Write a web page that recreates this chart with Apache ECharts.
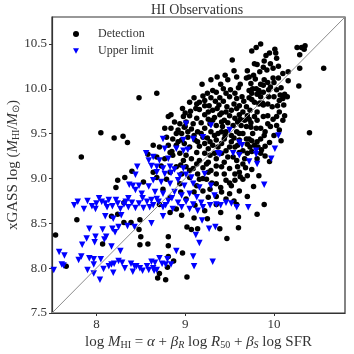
<!DOCTYPE html>
<html>
<head>
<meta charset="utf-8">
<script src="https://cdn.jsdelivr.net/npm/echarts@6/dist/echarts.min.js"></script>
<style>
    html, body { margin: 0; padding: 0; background: #fff; }
    #chart { width: 354px; height: 354px; }
</style>
</head>
<body>
<div id="chart"></div>
<script>
    // axis ticks
    var xTicks = [8, 9, 10];
    var yTicks = [7.5, 8.0, 8.5, 9.0, 9.5, 10.0, 10.5];
    var axisRange = [7.5, 10.8];

    // 1:1 line
    var oneToOne = [[7.5, 7.5], [10.8, 10.8]];

    // HI detections [predicted, observed]
    var detections = [
        [8.05,9.51],[8.20,9.45],[8.30,9.47],[8.35,9.40],[7.83,9.24],[8.40,9.08],[8.32,9.01],[8.24,8.98],[8.22,8.90],
        [8.53,8.96],[8.58,9.27],[8.31,8.73],[8.48,9.90],
        [7.78,8.54],[7.54,8.37],[8.17,8.58],[8.31,8.51],[8.39,8.51],[8.49,8.54],[8.48,8.43],[8.50,8.35],[8.49,8.26],
        [8.58,8.27],[8.07,8.27],[7.66,8.02],[8.24,8.60],
        [8.96,8.59],[9.10,8.56],[8.83,8.62],[9.02,8.46],[9.07,8.43],[9.14,8.44],[9.39,8.44],[9.60,8.57],[9.47,8.33],
        [8.81,8.35],[8.81,8.25],[8.97,8.17],[8.81,8.13],[8.87,8.08],[8.80,8.01],[8.71,7.94],[8.69,7.89],[8.78,7.87],[9.02,7.90],
        [10.40,9.51],[9.72,9.66],[9.81,9.65],[9.88,9.69],[9.99,9.66],[10.03,9.69],[10.12,9.70],[10.10,9.65],[9.85,9.56],
        [9.74,9.57],[9.93,9.61],[10.03,9.59],[10.06,9.54],[10.08,9.42],[9.72,9.44],[9.75,9.42],[9.81,9.41],[9.85,9.44],
        [9.78,9.37],[9.73,9.35],[9.82,9.35],[9.86,9.32],[9.81,9.22],[9.95,9.19],[9.70,9.03],[9.83,9.03],[9.77,8.91],[9.89,8.71],
        [9.78,9.69],[9.93,9.70],[9.96,9.58],[9.76,9.50],[9.89,9.48],[9.70,9.28],[9.85,9.28],[9.81,8.60],
        [10.56,10.23],[10.29,10.23],[10.28,10.03],[10.26,10.46],[10.31,10.46],[10.35,10.48],[10.34,10.44],[10.29,10.38],
        [9.85,10.50],[9.80,10.46],[9.75,10.42],[10.01,10.44],[10.02,10.40],[9.91,10.37],[10.03,10.34],[9.78,10.28],
        [9.81,10.27],[9.89,10.31],[9.96,10.28],[9.99,10.23],[9.88,10.24],[9.92,10.21],[9.84,10.19],[10.16,10.19],
        [10.10,10.17],[9.72,10.13],[9.77,10.15],[9.79,10.11],[9.89,10.10],[9.99,10.12],[10.05,10.12],[10.16,10.09],
        [9.74,10.06],[9.85,10.05],[9.93,10.07],[10.00,10.07],[10.08,10.01],[9.80,10.00],[9.83,9.98],[9.88,10.04],
        [9.94,9.99],[10.03,9.99],[10.10,9.92],[10.07,9.93],[10.12,9.94],[10.15,9.91],[10.10,9.89],[9.72,9.98],
        [9.75,9.95],[9.81,9.94],[9.83,9.96],[9.85,9.91],[9.88,9.96],[9.94,9.91],[9.72,9.90],[9.75,9.88],[9.78,9.85],
        [9.84,9.84],[9.88,9.82],[10.11,9.82],[9.93,9.83],
        [9.76,10.00],[9.87,9.84],[9.98,9.80],[10.04,9.81],[10.06,9.87],[10.00,9.91],[9.83,9.83],[9.73,9.76],
        [9.81,9.74],[10.06,9.74],[9.96,10.02],
        [9.53,10.32],[9.36,10.13],[9.29,10.10],[9.19,10.05],[9.58,10.13],[9.69,10.12],[8.68,9.95],[9.31,9.98],
        [9.43,10.00],[9.51,9.99],[9.60,10.01],[9.56,9.95],[9.50,9.91],[9.58,9.89],[9.64,9.91],[9.66,9.86],[9.20,9.92],
        [9.29,9.90],[9.34,9.86],[9.39,9.90],[9.43,9.86],[8.97,9.78],[9.22,9.81],[9.16,9.77],[9.27,9.81],[9.31,9.76],
        [9.36,9.78],[9.47,9.80],[9.52,9.76],[9.58,9.78],[9.06,9.75],
        [9.22,9.87],[9.41,9.73],[9.13,9.83],[9.46,9.74],[9.65,9.74],[9.35,9.96],[9.46,9.95],[9.61,9.81],[9.69,9.80],
        [9.26,9.74],[9.00,9.73],[9.16,9.85],
        [8.81,9.69],[8.84,9.71],[8.98,9.69],[9.05,9.70],[9.13,9.67],[9.22,9.71],[9.26,9.66],[9.33,9.68],[9.39,9.71],
        [9.44,9.65],[9.50,9.70],[9.56,9.67],[9.61,9.71],[9.67,9.65],[9.28,9.61],[9.35,9.59],[9.42,9.58],[9.54,9.59],
        [9.63,9.59],[9.69,9.58],[8.77,9.56],[8.84,9.56],[8.92,9.54],[8.99,9.57],[9.07,9.55],[9.14,9.52],[9.22,9.56],
        [9.29,9.52],[9.37,9.50],[9.46,9.52],[9.58,9.52],[9.65,9.50],[8.79,9.46],[8.86,9.44],[8.96,9.43],[9.03,9.46],
        [9.11,9.43],[9.20,9.46],[9.28,9.41],[9.35,9.43],[9.44,9.44],[9.52,9.41],[9.61,9.43],[9.69,9.44],[8.64,9.37],
        [8.71,9.35],[8.81,9.37],[8.90,9.37],[9.05,9.35],[9.16,9.36],[9.26,9.33],[9.37,9.35],[9.46,9.31],[9.56,9.35],
        [9.65,9.31],[8.83,9.29],[9.13,9.29],[9.22,9.28],[9.33,9.28],[8.68,9.24],[8.77,9.22],[8.86,9.26],[8.98,9.20],
        [9.07,9.22],[9.16,9.20],[9.26,9.18],[9.35,9.22],[9.48,9.24],[9.58,9.20],[9.67,9.22],[8.73,9.14],[8.90,9.13],
        [9.01,9.13],[9.09,9.11],[9.20,9.12],[9.29,9.09],[9.41,9.13],[9.50,9.11],[9.59,9.13],[8.64,9.07],[8.83,9.07],
        [8.96,9.05],[9.14,9.05],[9.35,9.05],[9.56,9.05],[8.68,9.01],[8.79,8.99],[9.05,9.01],[9.24,8.99],[9.46,8.98],
        [9.65,8.99],[8.94,8.94],[9.13,8.92],[9.35,8.94],[9.52,8.92],[8.75,8.88],[9.20,8.86],[9.41,8.85],[9.61,8.86],
        [8.83,8.79],[9.01,8.77],[9.26,8.79],[9.46,8.77],[8.71,8.71],[9.11,8.70],[9.35,8.71],[9.58,8.71],[8.90,8.66],
        [9.22,8.64],
        [9.01,9.63],[9.09,9.61],[9.18,9.62],[9.31,9.65],[9.41,9.63],[9.48,9.62],[9.59,9.63],[8.88,9.63],[8.94,9.61],
        [8.96,9.50],[9.03,9.52],[9.18,9.50],[9.33,9.48],[9.41,9.52],[9.52,9.48],[9.61,9.50],[8.92,9.41],[8.99,9.39],
        [9.14,9.41],[9.22,9.39],[9.31,9.37],[9.41,9.39],[9.50,9.35],[9.59,9.37],[8.94,9.28],[9.01,9.26],[9.28,9.26],
        [9.41,9.28],[9.54,9.24],[9.61,9.29],[9.13,9.16],[9.24,9.16],[9.35,9.14],[9.44,9.18],[9.65,9.16],[9.05,9.09],
        [9.26,9.07],[9.44,9.05],[9.61,9.07],[9.16,8.99],[9.56,8.98],[9.28,8.88],[9.50,8.83],
        [9.10,9.90],[9.25,9.95],[9.40,10.05],[9.48,10.10],[9.62,10.05],[9.70,10.20],[9.55,10.20],[9.45,10.15],
        [9.05,9.85],[9.12,9.78],[9.38,9.82],[9.55,9.83],[9.70,9.70],[9.62,9.66],[9.74,9.62],[9.80,9.56],[9.90,9.52],
        [10.00,9.48],[9.95,9.40],[9.90,9.36],[9.00,9.58],[9.10,9.48],[9.25,9.45],[9.45,9.48],[9.55,9.45],[9.70,9.38],
        [9.75,9.30],[9.90,9.25],[9.68,9.12],[9.75,9.10],[9.62,9.02],[9.50,8.95],[8.90,9.50],[8.85,9.30],[8.95,9.15],
        [9.20,9.00],[9.30,8.95],[9.40,8.90],[9.10,8.85],[8.95,8.85],[9.35,8.80],[9.55,8.75],[9.70,8.80],[9.40,8.62],
        [9.25,8.55],[9.60,8.45],[10.05,10.25],[9.95,10.40]
    ];

    // HI upper limits [predicted, observed]
    var upperLimits = [
        [8.46,9.13],[8.56,9.28],[8.59,9.20],[8.44,9.04],[8.37,8.93],[8.41,8.92],[8.48,8.92],[8.44,8.87],[8.51,8.83],
        [8.59,8.91],[7.79,8.74],[7.86,8.66],[7.95,8.69],[7.99,8.66],[8.03,8.78],[8.06,8.74],[8.10,8.72],[8.14,8.76],
        [8.18,8.69],[8.24,8.72],[8.27,8.66],[8.31,8.71],[8.36,8.68],[8.40,8.73],[8.44,8.67],[8.48,8.72],[8.53,8.67],
        [8.57,8.74],[8.60,8.68],[8.36,8.78],
        [8.10,8.58],[8.28,8.59],[8.19,8.55],[7.92,8.44],[8.07,8.43],[8.18,8.44],[8.21,8.40],[8.25,8.46],[8.35,8.47],
        [8.43,8.46],[7.99,8.35],[8.11,8.35],[8.09,8.32],[7.89,8.33],[7.98,8.29],[7.84,8.26],[8.17,8.24],[7.58,8.18],
        [7.64,8.14],[7.83,8.13],[7.92,8.11],[7.97,8.10],[8.05,8.10],[8.27,8.19],[7.80,8.09],[7.61,8.04],[7.63,8.03],
        [7.97,8.04],[8.17,8.04],[8.20,8.05],[8.14,8.02],[8.25,8.08],[8.29,8.06],[8.39,8.05],[8.43,8.02],[8.45,8.02],
        [8.49,8.00],[8.57,8.02],[8.52,7.97],[8.59,7.98],[8.32,8.00],[8.08,7.99],[7.90,7.98],[7.97,7.94],[8.19,7.95],
        [8.41,7.96],[8.04,7.87],[7.52,7.98],
        [8.75,8.58],[8.62,8.50],[9.19,8.53],[9.27,8.44],[9.34,8.46],[9.12,8.37],[9.16,8.28],[8.90,8.19],[9.09,8.13],
        [9.31,8.07],[9.10,8.02],[8.71,8.11],[8.80,8.10],[8.62,8.07],[8.66,8.06],[8.74,8.05],[8.78,8.04],[8.84,8.04],
        [8.64,8.00],[8.68,7.98],[8.65,7.97],
        [10.05,9.48],[10.01,9.33],[9.80,9.31],[9.80,9.27],[9.72,9.19],[9.81,9.16],[9.97,9.22],[9.89,8.93],[9.71,8.68],
        [9.01,9.61],[9.29,9.59],[9.50,9.54],[8.75,9.44],[8.98,9.43],[9.09,9.44],[9.20,9.46],[9.61,9.40],[9.64,9.37],
        [8.77,9.33],[8.90,9.33],[8.98,9.31],[9.03,9.32],[9.37,9.28],[9.39,9.27],[9.54,9.28],[9.61,9.26],[8.64,9.24],
        [8.71,9.20],[8.81,9.22],[8.62,9.14],[8.68,9.13],[8.75,9.11],[8.83,9.13],[8.88,9.10],[8.98,9.11],[8.68,9.07],
        [8.77,9.05],[8.84,9.06],[8.94,9.03],[9.01,9.04],[9.07,9.01],[9.22,9.05],[8.64,8.98],[8.73,8.96],[8.83,8.94],
        [8.92,8.98],[8.99,8.92],[9.09,8.94],[9.16,8.90],[9.29,8.92],[8.66,8.85],[8.75,8.83],[8.88,8.85],[8.96,8.81],
        [9.05,8.83],[9.13,8.79],[9.33,8.81],[8.68,8.77],[8.81,8.75],[8.92,8.73],[9.01,8.74],[9.09,8.71],[9.18,8.73],
        [9.28,8.70],[9.35,8.71],[9.46,8.73],[8.64,8.70],[8.75,8.68],[8.86,8.66],[8.96,8.68],[9.05,8.66],[9.14,8.64],
        [7.75,8.70],[7.90,8.75],[8.00,8.72],[8.12,8.68],[8.22,8.76],[8.33,8.74],[8.52,8.78],[8.62,8.76],[8.70,8.74],
        [8.78,8.70],[8.85,8.78],[9.20,8.68],[9.40,8.70],[9.52,8.72],[9.58,8.68]
    ];

    var serif = 'Liberation Serif';
    var mainTok = { fontFamily: serif, fontSize: 15, lineHeight: 18, verticalAlign: 'bottom', color: '#333' };
    var richText = {
        r: mainTok,
        i: Object.assign({}, mainTok, { fontStyle: 'italic' }),
        s: { fontFamily: serif, fontSize: 10, lineHeight: 7, verticalAlign: 'bottom', color: '#333' },
        si: { fontFamily: serif, fontSize: 10, lineHeight: 7, verticalAlign: 'bottom', fontStyle: 'italic', color: '#333' }
    };

    var chart = echarts.init(document.getElementById('chart'));

    var option = {
        animation: false,
        title: {
            text: 'HI Observations',
            left: 151,
            top: 3,
            padding: 0,
            textStyle: { fontFamily: serif, fontSize: 14, fontWeight: 'normal', color: '#333' }
        },
        legend: {
            data: [
                { name: 'Detection', icon: 'circle' },
                { name: 'Upper limit', icon: 'path://M0,0L10,0L5,9Z' }
            ],
            orient: 'vertical',
            left: 73,
            top: 27,
            padding: 0,
            itemWidth: 6,
            itemHeight: 6,
            itemGap: 3,
            textStyle: { fontFamily: serif, fontSize: 12, lineHeight: 14, color: '#333', padding: [0, 0, 0, 14] }
        },
        grid: {
            left: 52, right: 9, top: 17, bottom: 41,
            outerBoundsMode: 'none',
            containLabel: false,
            show: true,
            borderColor: '#333',
            borderWidth: 1.2,
            backgroundColor: '#fff'
        },
        xAxis: {
            type: 'value',
            min: axisRange[0],
            max: axisRange[1],
            splitLine: { show: false },
            axisLine: { lineStyle: { color: '#333', width: 1.2 } },
            axisTick: { length: 3, customValues: xTicks, lineStyle: { color: '#333' } },
            axisLabel: {
                customValues: xTicks,
                fontFamily: serif, fontSize: 13, color: '#333', margin: 5
            },
            name: '{r|log }{i|M}{s|HI}{r| = }{i|α}{r| + }{i|β}{si|R}{r| log }{i|R}{s|50}{r| + }{i|β}{si|S}{r| log SFR}',
            nameLocation: 'middle',
            nameGap: 19,
            nameMoveOverlap: false,
            nameTextStyle: { rich: richText }
        },
        yAxis: {
            type: 'value',
            min: axisRange[0],
            max: axisRange[1],
            splitLine: { show: false },
            axisLine: { lineStyle: { color: '#333', width: 1.2 } },
            axisTick: { length: 3, customValues: yTicks, lineStyle: { color: '#333' } },
            axisLabel: {
                customValues: yTicks,
                formatter: function (v) { return v.toFixed(1); },
                fontFamily: serif, fontSize: 13, color: '#333', margin: 5
            },
            name: '{r|xGASS log (}{i|M}{s|HI}{r|/}{i|M}{s|⊙}{r|)}',
            nameLocation: 'middle',
            nameRotate: 90,
            nameGap: 31,
            nameMoveOverlap: false,
            nameTextStyle: { rich: richText }
        },
        series: [
            {
                name: 'Detection',
                type: 'scatter',
                data: detections,
                symbol: 'circle',
                symbolSize: 5.5,
                itemStyle: { color: '#000', opacity: 1 },
                z: 2
            },
            {
                name: 'Upper limit',
                type: 'scatter',
                data: upperLimits,
                symbol: 'triangle',
                symbolRotate: 180,
                symbolSize: 6.5,
                itemStyle: { color: '#0000ff', opacity: 1 },
                z: 3
            },
            {
                name: 'one-to-one',
                type: 'line',
                data: oneToOne,
                symbol: 'none',
                lineStyle: { color: '#8c8c8c', width: 1 },
                z: 4
            }
        ]
    };

    chart.setOption(option);
</script>
</body>
</html>
